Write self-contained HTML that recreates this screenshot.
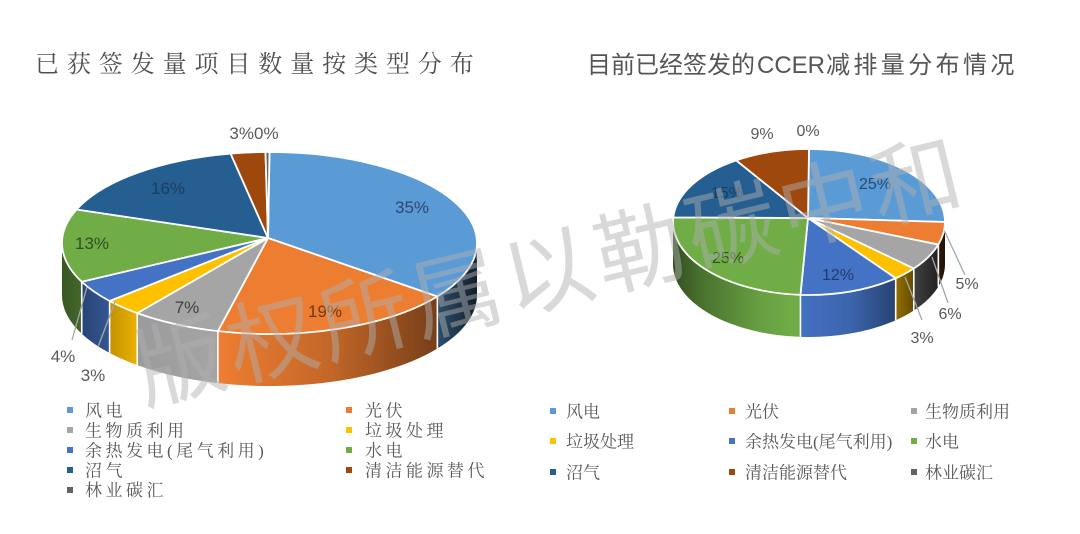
<!DOCTYPE html>
<html>
<head>
<meta charset="utf-8">
<style>
html,body{margin:0;padding:0;background:#fff;width:1080px;height:534px;overflow:hidden}
svg{display:block}
.ttl-l{font-family:"Liberation Serif","Noto Serif CJK SC",serif;}
.ttl-r{font-family:"Liberation Sans","Noto Sans CJK SC",sans-serif;}
.lg{font-family:"Liberation Serif","Noto Serif CJK SC",serif;font-size:17px;fill:#595959;}
.lab{font-family:"Liberation Sans",sans-serif;text-anchor:middle;}
</style>
</head>
<body>
<svg width="1080" height="534" viewBox="0 0 1080 534" xmlns="http://www.w3.org/2000/svg">
<defs>
<linearGradient id="gL" gradientUnits="userSpaceOnUse" x1="62" y1="0" x2="477" y2="0">
<stop offset="0" stop-color="#000" stop-opacity="0.5"/>
<stop offset="0.092" stop-color="#000" stop-opacity="0.3"/>
<stop offset="0.188" stop-color="#000" stop-opacity="0.06"/>
<stop offset="0.381" stop-color="#000" stop-opacity="0"/>
<stop offset="0.646" stop-color="#000" stop-opacity="0.18"/>
<stop offset="0.904" stop-color="#000" stop-opacity="0.5"/>
<stop offset="1" stop-color="#000" stop-opacity="0.8"/>
</linearGradient>
<linearGradient id="gR" gradientUnits="userSpaceOnUse" x1="673" y1="0" x2="945" y2="0">
<stop offset="0" stop-color="#000" stop-opacity="0.55"/>
<stop offset="0.099" stop-color="#000" stop-opacity="0.35"/>
<stop offset="0.32" stop-color="#000" stop-opacity="0.08"/>
<stop offset="0.449" stop-color="#000" stop-opacity="0"/>
<stop offset="0.651" stop-color="#000" stop-opacity="0.12"/>
<stop offset="0.809" stop-color="#000" stop-opacity="0.4"/>
<stop offset="0.89" stop-color="#000" stop-opacity="0.62"/>
<stop offset="1" stop-color="#000" stop-opacity="0.85"/>
</linearGradient>
</defs>

<!-- Titles -->
<text class="ttl-l" x="35" y="72" font-size="24" letter-spacing="7.9" fill="#505050">已获签发量项目数量按类型分布</text>
<text class="ttl-r" y="73" font-size="24" fill="#555"><tspan x="587">目前已经签发的</tspan><tspan x="757">CCER</tspan><tspan x="826" letter-spacing="3.4">减排量分布情况</tspan></text>

<!-- LEFT PIE sides -->
<g stroke="none">
<path fill="#5B9BD5" d="M477,243 A207.5,91 0 0 1 437.37,296.49 L437.37,348.49 A207.5,91 0 0 0 477,295 Z"/>
<path fill="#ED7D31" d="M437.37,296.49 A207.5,91 0 0 1 217.9,331.14 L217.9,383.14 A207.5,91 0 0 0 437.37,348.49 Z"/>
<path fill="#A5A5A5" d="M217.9,331.14 A207.5,91 0 0 1 137.24,313.12 L137.24,365.12 A207.5,91 0 0 0 217.9,383.14 Z"/>
<path fill="#FFC000" d="M137.24,313.12 A207.5,91 0 0 1 109.62,301.01 L109.62,353.01 A207.5,91 0 0 0 137.24,365.12 Z"/>
<path fill="#4472C4" d="M109.62,301.01 A207.5,91 0 0 1 81.75,281.75 L81.75,333.75 A207.5,91 0 0 0 109.62,353.01 Z"/>
<path fill="#70AD47" d="M81.75,281.75 A207.5,91 0 0 1 62,243 L62,295 A207.5,91 0 0 0 81.75,333.75 Z"/>
<path fill="url(#gL)" d="M477,243 A207.5,91 0 0 1 62,243 L62,295 A207.5,91 0 0 0 477,295 Z"/>
</g>
<g stroke="#fff" stroke-width="1.6">
<line x1="437.37" y1="296.49" x2="437.37" y2="348.49"/>
<line x1="217.9" y1="331.14" x2="217.9" y2="383.14"/>
<line x1="137.24" y1="313.12" x2="137.24" y2="365.12"/>
<line x1="109.62" y1="301.01" x2="109.62" y2="353.01"/>
<line x1="81.75" y1="281.75" x2="81.75" y2="333.75"/>
</g>
<!-- LEFT PIE top -->
<g stroke="#fff" stroke-width="1.8" stroke-linejoin="round">
<path fill="#5B9BD5" d="M268,238 L269.5,152 A207.5,91 0 0 1 437.37,296.49 Z"/>
<path fill="#ED7D31" d="M268,238 L437.37,296.49 A207.5,91 0 0 1 217.9,331.14 Z"/>
<path fill="#A5A5A5" d="M268,238 L217.9,331.14 A207.5,91 0 0 1 137.24,313.12 Z"/>
<path fill="#FFC000" d="M268,238 L137.24,313.12 A207.5,91 0 0 1 109.62,301.01 Z"/>
<path fill="#4472C4" d="M268,238 L109.62,301.01 A207.5,91 0 0 1 81.75,281.75 Z"/>
<path fill="#70AD47" d="M268,238 L81.75,281.75 A207.5,91 0 0 1 76.57,209.5 Z"/>
<path fill="#255E91" d="M268,238 L76.57,209.5 A207.5,91 0 0 1 230.62,153.61 Z"/>
<path fill="#9E480E" d="M268,238 L230.62,153.61 A207.5,91 0 0 1 265.5,152 Z"/>
<path fill="#636363" d="M268,238 L265.5,152 A207.5,91 0 0 1 269.5,152 Z"/>
</g>
<!-- left labels -->
<g class="lab" font-size="17">
<text x="412" y="213" fill="#2b4a70">35%</text>
<text x="325" y="317" fill="#70380f">19%</text>
<text x="187" y="313" fill="#404040">7%</text>
<text x="92" y="249" fill="#30501f">13%</text>
<text x="168" y="194" fill="#1a3d60">16%</text>
<text x="254" y="139" fill="#595959">3%0%</text>
<text x="63" y="362" fill="#595959">4%</text>
<text x="93" y="381" fill="#595959">3%</text>
</g>
<g stroke="#a6a6a6" stroke-width="1.3">
<line x1="72" y1="340" x2="87" y2="287"/>
<line x1="98" y1="347" x2="115" y2="302"/>
</g>

<!-- RIGHT PIE sides -->
<g stroke="none">
<path fill="#ED7D31" d="M945,222 A136,73 0 0 1 938.34,244.56 L938.34,286.56 A136,73 0 0 0 945,264 Z"/>
<path fill="#A5A5A5" d="M938.34,244.56 A136,73 0 0 1 913.79,268.53 L913.79,310.53 A136,73 0 0 0 938.34,286.56 Z"/>
<path fill="#FFC000" d="M913.79,268.53 A136,73 0 0 1 895.69,278.25 L895.69,320.25 A136,73 0 0 0 913.79,310.53 Z"/>
<path fill="#4472C4" d="M895.69,278.25 A136,73 0 0 1 800.46,294.86 L800.46,336.86 A136,73 0 0 0 895.69,320.25 Z"/>
<path fill="#70AD47" d="M800.46,294.86 A136,73 0 0 1 673,222 L673,264 A136,73 0 0 0 800.46,336.86 Z"/>
<path fill="url(#gR)" d="M945,222 A136,73 0 0 1 673,222 L673,264 A136,73 0 0 0 945,264 Z"/>
</g>
<g stroke="#fff" stroke-width="1.6">
<line x1="938.34" y1="244.56" x2="938.34" y2="286.56"/>
<line x1="913.79" y1="268.53" x2="913.79" y2="310.53"/>
<line x1="895.69" y1="278.25" x2="895.69" y2="320.25"/>
<line x1="800.46" y1="294.86" x2="800.46" y2="336.86"/>
</g>
<!-- RIGHT PIE top -->
<g stroke="#fff" stroke-width="1.8" stroke-linejoin="round">
<path fill="#5B9BD5" d="M808,218 L809,149 A136,73 0 0 1 945,222 Z"/>
<path fill="#ED7D31" d="M808,218 L945,222 A136,73 0 0 1 938.34,244.56 Z"/>
<path fill="#A5A5A5" d="M808,218 L938.34,244.56 A136,73 0 0 1 913.79,268.53 Z"/>
<path fill="#FFC000" d="M808,218 L913.79,268.53 A136,73 0 0 1 895.69,278.25 Z"/>
<path fill="#4472C4" d="M808,218 L895.69,278.25 A136,73 0 0 1 800.46,294.86 Z"/>
<path fill="#70AD47" d="M808,218 L800.46,294.86 A136,73 0 0 1 673.27,217.42 Z"/>
<path fill="#255E91" d="M808,218 L673.27,217.42 A136,73 0 0 1 736.13,160.36 Z"/>
<path fill="#9E480E" d="M808,218 L736.13,160.36 A136,73 0 0 1 809,149 Z"/>
</g>
<!-- right labels -->
<g class="lab" font-size="16">
<text x="875" y="189" fill="#2b4a70">25%</text>
<text x="727" y="198" fill="#1a3d60">15%</text>
<text x="728" y="263" fill="#30501f">25%</text>
<text x="838" y="280" fill="#213a70">12%</text>
<text x="762" y="139" fill="#595959">9%</text>
<text x="808" y="136" fill="#595959">0%</text>
<text x="967" y="289" fill="#595959">5%</text>
<text x="950" y="319" fill="#595959">6%</text>
<text x="922" y="343" fill="#595959">3%</text>
</g>
<g stroke="#a6a6a6" stroke-width="1.3">
<line x1="945" y1="232" x2="965" y2="275"/>
<line x1="932" y1="257" x2="948" y2="303"/>
<line x1="905" y1="277" x2="922" y2="320"/>
</g>

<!-- LEFT LEGEND -->
<rect x="67" y="407" width="6" height="6" fill="#5B9BD5"/>
<rect x="67" y="427" width="6" height="6" fill="#A5A5A5"/>
<rect x="67" y="447" width="6" height="6" fill="#4472C4"/>
<rect x="67" y="467" width="6" height="6" fill="#255E91"/>
<rect x="67" y="487" width="6" height="6" fill="#636363"/>
<rect x="346" y="407" width="6" height="6" fill="#ED7D31"/>
<rect x="346" y="427" width="6" height="6" fill="#FFC000"/>
<rect x="346" y="447" width="6" height="6" fill="#70AD47"/>
<rect x="346" y="467" width="6" height="6" fill="#9E480E"/>
<g class="lg" letter-spacing="3.5">
<text x="85" y="416.5">风电</text>
<text x="85" y="436.5">生物质利用</text>
<text x="85" y="456.5">余热发电(尾气利用)</text>
<text x="85" y="476.5">沼气</text>
<text x="85" y="496">林业碳汇</text>
<text x="365" y="416.5">光伏</text>
<text x="365" y="436.5">垃圾处理</text>
<text x="365" y="456.5">水电</text>
<text x="365" y="476.5">清洁能源替代</text>
</g>

<!-- RIGHT LEGEND -->
<rect x="550" y="408" width="6" height="6" fill="#5B9BD5"/>
<rect x="729" y="408" width="6" height="6" fill="#ED7D31"/>
<rect x="911" y="408" width="6" height="6" fill="#A5A5A5"/>
<rect x="550" y="438" width="6" height="6" fill="#FFC000"/>
<rect x="729" y="438" width="6" height="6" fill="#4472C4"/>
<rect x="911" y="438" width="6" height="6" fill="#70AD47"/>
<rect x="550" y="469" width="6" height="6" fill="#255E91"/>
<rect x="729" y="469" width="6" height="6" fill="#9E480E"/>
<rect x="911" y="469" width="6" height="6" fill="#636363"/>
<g class="lg">
<text x="566" y="417.5">风电</text>
<text x="745" y="417.5">光伏</text>
<text x="925" y="417.5">生物质利用</text>
<text x="566" y="447.5">垃圾处理</text>
<text x="745" y="447.5">余热发电(尾气利用)</text>
<text x="925" y="447.5">水电</text>
<text x="566" y="478.5">沼气</text>
<text x="745" y="478.5">清洁能源替代</text>
<text x="925" y="478.5">林业碳汇</text>
</g>

<!-- WATERMARK -->
<text x="135" y="394" transform="rotate(-13.76 180 360)" font-size="90" letter-spacing="4.6" fill="#b0b0b0" fill-opacity="0.48" font-family="'Liberation Sans','Noto Sans CJK SC',sans-serif">版权所属以勒碳中和</text>
</svg>
</body>
</html>
